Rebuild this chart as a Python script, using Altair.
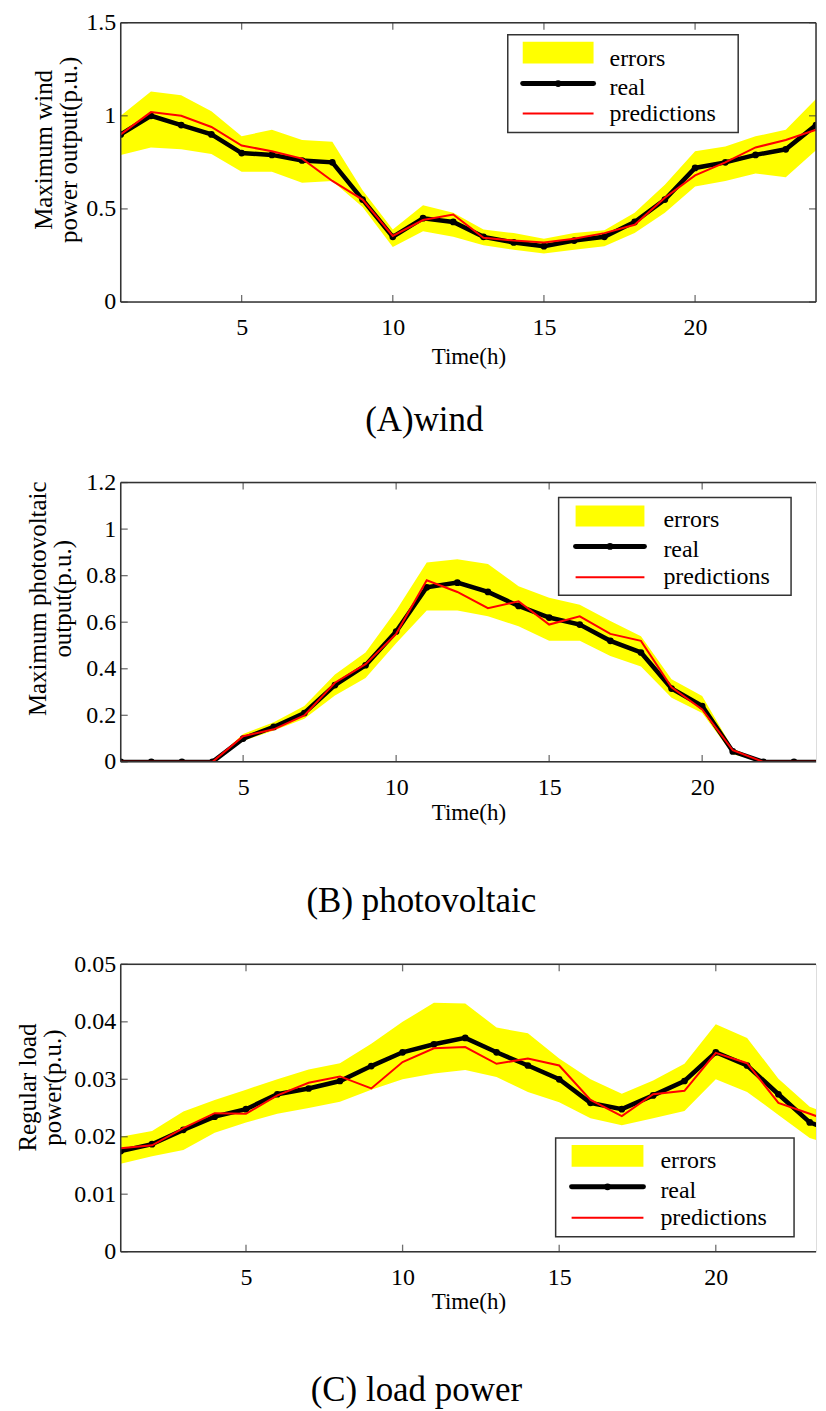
import altair as alt
import pandas as pd

hours = list(range(1, 25))

# (A) wind
wind_real = [0.90, 1.00, 0.95, 0.90, 0.80, 0.79, 0.76, 0.75, 0.55, 0.35, 0.45, 0.43,
             0.35, 0.32, 0.30, 0.33, 0.35, 0.43, 0.55, 0.72, 0.75, 0.79, 0.82, 0.95]
wind_pred = [0.90, 1.02, 1.00, 0.94, 0.84, 0.81, 0.77, 0.65, 0.55, 0.355, 0.44, 0.47,
             0.345, 0.33, 0.32, 0.34, 0.37, 0.415, 0.56, 0.68, 0.75, 0.83, 0.87, 0.925]
wind_upper = [1.00, 1.13, 1.11, 1.025, 0.89, 0.925, 0.87, 0.86, 0.60, 0.39, 0.52, 0.48,
              0.39, 0.37, 0.34, 0.37, 0.385, 0.48, 0.63, 0.81, 0.835, 0.89, 0.925, 1.09]
wind_lower = [0.79, 0.83, 0.82, 0.795, 0.70, 0.70, 0.64, 0.65, 0.51, 0.295, 0.38, 0.35,
              0.305, 0.28, 0.26, 0.28, 0.30, 0.37, 0.48, 0.62, 0.65, 0.69, 0.67, 0.815]

# (B) photovoltaic
pv_real = [0, 0, 0, 0, 0.10, 0.15, 0.21, 0.33, 0.415, 0.56, 0.75, 0.77,
           0.73, 0.67, 0.62, 0.59, 0.52, 0.47, 0.315, 0.24, 0.045, 0, 0, 0]
pv_pred = [0, 0, 0, 0, 0.11, 0.14, 0.20, 0.34, 0.42, 0.55, 0.78, 0.73,
           0.66, 0.69, 0.59, 0.625, 0.55, 0.52, 0.32, 0.225, 0.05, 0, 0, 0]
pv_upper = [0, 0, 0, 0, 0.12, 0.17, 0.24, 0.375, 0.47, 0.65, 0.857, 0.87,
            0.85, 0.755, 0.705, 0.675, 0.605, 0.54, 0.355, 0.283, 0.057, 0, 0, 0]
pv_lower = [0, 0, 0, 0, 0.09, 0.135, 0.185, 0.285, 0.36, 0.51, 0.65, 0.65,
            0.626, 0.583, 0.52, 0.52, 0.455, 0.41, 0.275, 0.21, 0.033, 0, 0, 0]

# (C) load power
load_real = [0.0175, 0.0187, 0.0212, 0.0235, 0.0248, 0.0274, 0.0284, 0.0297, 0.0323, 0.0347, 0.0361, 0.0372,
             0.0347, 0.0324, 0.0300, 0.0259, 0.0248, 0.0272, 0.0297, 0.0347, 0.0324, 0.0274, 0.0225, 0.0205]
load_pred = [0.0180, 0.0185, 0.0215, 0.0241, 0.0240, 0.0272, 0.0294, 0.0305, 0.0284, 0.0330, 0.0354, 0.0356,
             0.0327, 0.0336, 0.0324, 0.0264, 0.0236, 0.0274, 0.0280, 0.0346, 0.0328, 0.0259, 0.0240, 0.0220]
load_upper = [0.0200, 0.0210, 0.0244, 0.0264, 0.0282, 0.0300, 0.0317, 0.0328, 0.0362, 0.0400, 0.0433, 0.0432,
              0.0390, 0.0380, 0.0336, 0.0300, 0.0275, 0.0298, 0.0327, 0.0396, 0.0372, 0.0301, 0.0252, 0.0232]
load_lower = [0.0153, 0.0166, 0.0177, 0.0207, 0.0225, 0.0240, 0.0250, 0.0261, 0.0282, 0.0300, 0.0310, 0.0316,
              0.0304, 0.0278, 0.0260, 0.0232, 0.0220, 0.0232, 0.0245, 0.0300, 0.0278, 0.0238, 0.0198, 0.0181]

x_ticks = [5, 10, 15, 20]
legend_labels = ["errors", "real", "predictions"]

SERIF = "Liberation Serif"
FRAME = "#333333"


def panel(real, pred, upper, lower, xmax, ymax, yticks, ytitle, caption, width, height,
          leg, x_title_pad, y_title_pad, title_y, cap_offset, right_frame):
    df = pd.DataFrame({"t": hours, "real": real, "pred": pred,
                       "upper": upper, "lower": lower})
    xs = alt.Scale(domain=[1, xmax], nice=False, zero=False)
    ys = alt.Scale(domain=[0, ymax], nice=False, zero=False)
    xaxis = alt.Axis(values=x_ticks, format="d", title="Time(h)", ticks=False, grid=False,
                     domain=False, labelPadding=14, titlePadding=x_title_pad,
                     labelFont=SERIF, labelFontSize=24, titleFont=SERIF, titleFontSize=23,
                     titleFontWeight="normal", labelColor="black", titleColor="black")
    yaxis = alt.Axis(values=yticks, format="~g", title=ytitle, ticks=False, grid=False,
                     domain=False, labelPadding=5, titlePadding=y_title_pad, titleY=title_y,
                     labelFont=SERIF, labelFontSize=24, titleFont=SERIF, titleFontSize=25,
                     titleFontWeight="normal", titleLineHeight=25,
                     labelColor="black", titleColor="black")

    X = alt.X("t:Q", scale=xs, axis=xaxis)
    base = alt.Chart(df)
    band = base.mark_area(color="#FFFF00", opacity=1, clip=True).encode(
        x=X, y=alt.Y("lower:Q", scale=ys, axis=yaxis), y2="upper:Q")
    real_line = base.mark_line(color="black", strokeWidth=4.5, clip=True,
                               point=alt.OverlayMarkDef(filled=True, color="black", size=45,
                                                        clip=True)).encode(
        x=X, y=alt.Y("real:Q", scale=ys, axis=yaxis))
    pred_line = base.mark_line(color="#FF0000", strokeWidth=2, clip=True).encode(
        x=X, y=alt.Y("pred:Q", scale=ys, axis=yaxis))

    # frame lines (left, top, bottom, optional right)
    one = alt.Chart(alt.Data(values=[{"k": 0}]))
    fstyle = dict(color=FRAME, strokeWidth=1.5)
    frames = [
        one.mark_rule(**fstyle).encode(x=alt.XDatum(1, scale=xs, axis=xaxis),
                                       y=alt.YDatum(0, scale=ys, axis=yaxis),
                                       y2=alt.YDatum(ymax)),
        one.mark_rule(**fstyle).encode(x=alt.XDatum(1, scale=xs, axis=xaxis),
                                       x2=alt.XDatum(xmax),
                                       y=alt.YDatum(0, scale=ys, axis=yaxis)),
        one.mark_rule(**fstyle).encode(x=alt.XDatum(1, scale=xs, axis=xaxis),
                                       x2=alt.XDatum(xmax),
                                       y=alt.YDatum(ymax, scale=ys, axis=yaxis)),
    ]
    if right_frame:
        frames.append(one.mark_rule(**fstyle).encode(x=alt.XDatum(xmax, scale=xs, axis=xaxis),
                                                     y=alt.YDatum(0, scale=ys, axis=yaxis),
                                                     y2=alt.YDatum(ymax)))

    # inward MATLAB-style ticks
    xt = alt.Chart(alt.Data(values=[{"v": v} for v in x_ticks]))
    yt = alt.Chart(alt.Data(values=[{"v": v} for v in yticks]))
    tick_style = dict(color=FRAME, thickness=1.3, size=7)
    ticks = [
        xt.mark_tick(orient="vertical", **tick_style).encode(
            x=alt.X("v:Q", scale=xs, axis=xaxis), y=alt.YDatum(0, scale=ys, axis=yaxis),
            yOffset=alt.value(-3.5)),
        xt.mark_tick(orient="vertical", **tick_style).encode(
            x=alt.X("v:Q", scale=xs, axis=xaxis), y=alt.YDatum(ymax, scale=ys, axis=yaxis),
            yOffset=alt.value(3.5)),
        yt.mark_tick(orient="horizontal", **tick_style).encode(
            y=alt.Y("v:Q", scale=ys, axis=yaxis), x=alt.XDatum(1, scale=xs, axis=xaxis),
            xOffset=alt.value(3.5)),
    ]
    if right_frame:
        ticks.append(yt.mark_tick(orient="horizontal", **tick_style).encode(
            y=alt.Y("v:Q", scale=ys, axis=yaxis), x=alt.XDatum(xmax, scale=xs, axis=xaxis),
            xOffset=alt.value(-3.5)))

    # legend box (layout positions in pixels)
    box = one.mark_rect(fill="white", stroke=FRAME, strokeWidth=1.5).encode(
        x=alt.value(leg["box"][0]), x2=alt.value(leg["box"][1]),
        y=alt.value(leg["box"][2]), y2=alt.value(leg["box"][3]))
    sw = one.mark_rect(fill="#FFFF00").encode(
        x=alt.value(leg["sym"][0]), x2=alt.value(leg["sym"][1]),
        y=alt.value(leg["rect"][0]), y2=alt.value(leg["rect"][1]))
    rl = one.mark_rule(color="black", strokeWidth=5, strokeCap="round").encode(
        x=alt.value(leg["sym"][0]), x2=alt.value(leg["sym"][1]), y=alt.value(leg["real"]))
    rd = one.mark_point(filled=True, color="black", size=45, opacity=1).encode(
        x=alt.value((leg["sym"][0] + leg["sym"][1]) / 2), y=alt.value(leg["real"]))
    pl = one.mark_rule(color="#FF0000", strokeWidth=2).encode(
        x=alt.value(leg["sym"][0]), x2=alt.value(leg["sym"][1]), y=alt.value(leg["pred"]))
    texts = [one.mark_text(align="left", baseline="alphabetic", font=SERIF, fontSize=24,
                           color="black").encode(
        x=alt.value(leg["tx"]), y=alt.value(b), text=alt.value(lab))
        for lab, b in zip(legend_labels, leg["base"])]

    return alt.layer(band, real_line, pred_line, *frames, *ticks, box, sw, rl, rd, pl,
                     *texts).properties(
        width=width, height=height,
        title=alt.TitleParams(caption, orient="bottom", offset=cap_offset, font=SERIF,
                              fontSize=35, fontWeight="normal", color="black",
                              anchor="middle", frame="bounds"))


legA = {"box": (388, 619, 12, 110), "sym": (403, 474), "rect": (19, 41),
        "real": 61, "pred": 91, "tx": 490, "base": (43, 72, 99)}
legB = {"box": (439, 672, 15, 113), "sym": (456, 525), "rect": (23, 44),
        "real": 64, "pred": 95, "tx": 544, "base": (45, 75, 102)}
legC = {"box": (436, 675, 174, 273), "sym": (452, 524), "rect": (181, 203),
        "real": 223, "pred": 254, "tx": 541, "base": (204, 234, 261)}

W = 697
A = panel(wind_real, wind_pred, wind_upper, wind_lower, 24, 1.5, [0, 0.5, 1, 1.5],
          ["Maximum wind", "power output(p.u.)"], "(A)wind", W, 280, legA, 6, 4, 127, 34, True)
B = panel(pv_real, pv_pred, pv_upper, pv_lower, 23.72, 1.2, [0, 0.2, 0.4, 0.6, 0.8, 1, 1.2],
          ["Maximum photovoltaic", "output(p.u.)"], "(B) photovoltaic", W, 280, legB, 2, 10, 116, 60, False)
C = panel(load_real, load_pred, load_upper, load_lower, 23.2, 0.05, [0, 0.01, 0.02, 0.03, 0.04, 0.05],
          ["Regular load", "power(p.u.)"], "(C) load power", W, 288, legC, 1, 8, 123, 60, False)

chart = alt.vconcat(A, B, C, spacing=31).properties(
    padding={"left": 7, "top": 0, "right": 0, "bottom": 0}
).configure_view(strokeWidth=0).configure_axis(
    labelFont=SERIF, titleFont=SERIF).configure_text(font=SERIF).configure(background="white")

chart.save("out.html", embed_options={"renderer": "svg", "actions": False})
